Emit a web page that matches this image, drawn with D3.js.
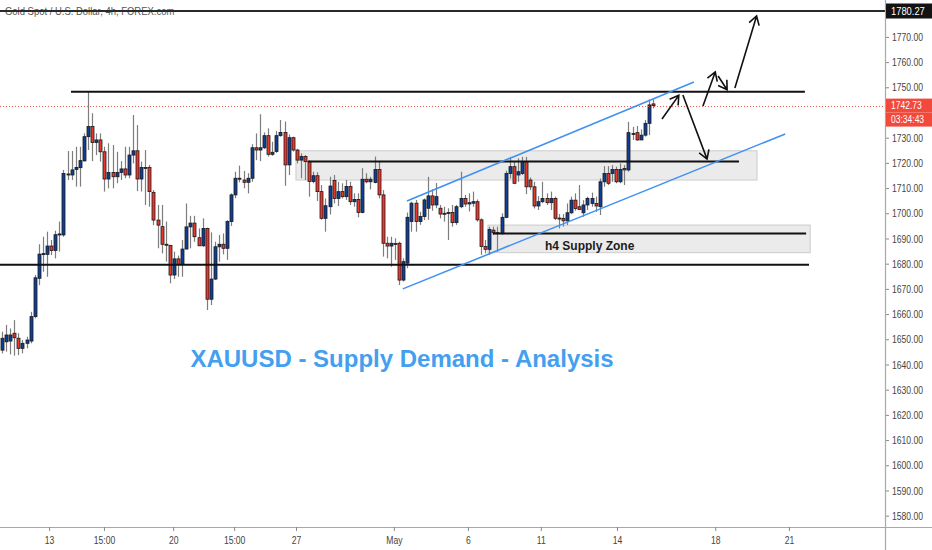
<!DOCTYPE html>
<html><head><meta charset="utf-8">
<script src="https://cdn.jsdelivr.net/npm/d3@7"></script>
<style>html,body{margin:0;padding:0;background:#fff;overflow:hidden}</style>
</head><body><svg id="c" width="932" height="550"></svg>
<script>
// ---- data (4h candles, Gold Spot / USD) ----
const opens=[1645.7,1649.0,1649.3,1652.4,1650.4,1646.4,1648.4,1649.3,1659.0,1674.2,
1683.8,1683.7,1687.0,1685.2,1691.5,1691.4,1715.6,1715.2,1717.4,1718.1,
1720.8,1730.4,1734.4,1728.1,1729.1,1724.4,1713.6,1716.2,1714.5,1716.2,
1717.6,1715.2,1723.1,1724.8,1713.6,1718.2,1718.2,1708.3,1697.3,1694.7,
1687.7,1687.2,1675.5,1681.9,1679.7,1685.8,1694.6,1696.1,1690.3,1687.1,
1694.0,1665.9,1673.9,1686.7,1687.7,1686.1,1696.7,1707.3,1713.9,1713.2,
1712.3,1713.9,1726.0,1725.1,1726.0,1730.8,1723.4,1724.5,1730.8,1732.1,
1719.2,1730.0,1725.1,1721.1,1722.5,1720.5,1712.6,1714.9,1708.6,1698.0,
1702.6,1713.0,1705.9,1708.6,1706.6,1710.6,1704.6,1705.5,1700.3,1713.5,
1712.5,1712.2,1717.4,1707.3,1688.1,1687.0,1688.0,1688.1,1673.5,1680.2,
1696.7,1704.0,1696.7,1698.7,1702.0,1706.9,1703.3,1702.0,1700.0,1700.3,
1700.3,1696.3,1702.6,1705.9,1703.7,1704.0,1704.6,1697.4,1686.8,1685.7,
1693.3,1692.3,1692.0,1698.4,1715.8,1718.5,1715.2,1715.8,1720.5,1713.2,
1710.5,1702.9,1704.6,1705.9,1704.2,1705.9,1698.1,1698.0,1697.0,1700.2,
1705.2,1702.6,1700.2,1703.3,1703.9,1703.9,1702.6,1712.5,1715.8,1715.8,
1717.4,1712.5,1717.8,1717.2,1731.7,1732.0,1729.1,1731.0,1735.7,1743.4];
const highs=[1653.0,1655.7,1654.3,1657.6,1652.4,1649.7,1651.0,1660.9,1675.5,1687.7,
1690.7,1692.7,1689.4,1693.1,1696.7,1717.2,1724.7,1724.7,1726.4,1726.4,
1731.7,1748.3,1739.7,1731.7,1731.7,1726.4,1727.8,1727.1,1724.4,1720.7,
1726.4,1726.4,1739.0,1735.0,1720.5,1725.1,1719.2,1709.2,1703.3,1703.3,
1696.7,1687.5,1684.8,1683.2,1689.4,1703.9,1699.0,1699.0,1694.0,1698.0,
1694.3,1692.4,1688.7,1691.4,1692.0,1697.3,1707.9,1716.5,1718.9,1716.8,
1715.9,1727.4,1731.7,1739.3,1732.1,1733.7,1728.4,1732.7,1737.0,1736.4,
1731.3,1730.4,1725.6,1723.8,1723.1,1721.0,1716.5,1716.3,1711.2,1705.9,
1714.5,1715.2,1712.5,1711.9,1713.2,1712.5,1707.9,1707.9,1717.9,1715.9,
1714.5,1722.5,1720.5,1709.2,1690.7,1690.7,1690.1,1688.7,1682.1,1700.3,
1704.6,1705.3,1700.6,1705.9,1714.5,1709.5,1712.0,1703.3,1702.6,1702.0,
1703.3,1703.3,1716.5,1707.3,1707.9,1708.6,1705.5,1698.0,1689.4,1694.7,
1694.7,1694.7,1700.0,1716.9,1722.4,1720.5,1721.8,1722.4,1722.4,1714.2,
1712.5,1706.8,1712.5,1707.9,1708.6,1706.6,1699.7,1699.7,1703.9,1706.6,
1707.9,1711.2,1705.2,1706.6,1708.2,1706.6,1713.8,1718.7,1718.7,1719.1,
1718.5,1719.8,1719.1,1736.3,1734.3,1734.6,1733.3,1737.0,1745.2,1745.2];
const lows=[1644.4,1645.1,1644.0,1643.5,1643.7,1644.4,1646.4,1648.4,1658.3,1671.5,
1676.8,1674.8,1683.4,1682.1,1684.8,1690.7,1713.2,1713.2,1710.6,1710.6,
1720.5,1725.1,1720.7,1723.1,1720.5,1708.6,1709.9,1709.9,1711.9,1713.2,
1713.9,1713.9,1719.8,1708.8,1708.6,1703.3,1702.6,1695.3,1686.1,1684.1,
1680.8,1672.2,1673.9,1674.8,1674.8,1685.8,1686.1,1688.7,1687.1,1686.7,
1661.6,1663.6,1673.5,1680.8,1683.7,1681.5,1695.0,1706.0,1712.3,1709.9,
1707.9,1712.5,1721.1,1720.7,1725.5,1722.5,1722.8,1724.0,1730.4,1710.9,
1715.2,1724.5,1719.8,1713.9,1713.2,1706.6,1711.9,1704.9,1697.5,1692.7,
1699.5,1703.9,1702.9,1705.9,1705.3,1703.3,1702.6,1698.4,1700.0,1711.9,
1709.5,1711.9,1705.9,1682.8,1682.1,1678.8,1681.5,1671.5,1672.9,1678.2,
1692.7,1692.7,1695.4,1697.3,1697.4,1701.0,1702.0,1698.0,1696.7,1689.4,
1694.7,1695.4,1702.0,1702.6,1700.7,1702.6,1696.7,1683.5,1684.1,1683.5,
1691.4,1684.7,1691.4,1698.0,1713.8,1711.6,1712.5,1715.2,1707.6,1709.2,
1701.9,1701.3,1704.0,1703.3,1701.3,1697.3,1694.0,1694.7,1695.3,1699.7,
1701.0,1701.3,1698.6,1701.3,1702.6,1700.6,1699.3,1710.5,1711.2,1712.5,
1711.9,1711.9,1711.2,1716.5,1729.1,1728.8,1729.1,1730.4,1731.0,1741.6];
const closes=[1650.4,1651.7,1651.7,1650.6,1646.4,1648.4,1649.7,1659.0,1674.4,1683.8,
1684.0,1687.0,1685.2,1691.5,1691.8,1715.8,1715.3,1717.2,1718.2,1720.9,
1730.4,1734.4,1728.1,1729.1,1724.4,1713.6,1716.2,1714.5,1716.2,1717.6,
1715.2,1723.1,1724.8,1713.6,1718.2,1718.0,1708.6,1697.3,1695.3,1687.7,
1687.5,1675.5,1681.9,1679.7,1685.8,1694.6,1696.1,1690.7,1687.1,1694.0,
1665.9,1673.9,1686.7,1687.7,1686.1,1696.7,1707.3,1713.9,1713.7,1712.3,
1713.9,1726.0,1725.1,1726.0,1730.8,1723.4,1724.2,1730.8,1732.1,1719.2,
1730.0,1725.1,1721.1,1722.5,1720.5,1712.6,1714.9,1708.6,1698.0,1703.0,
1710.8,1705.9,1708.6,1706.6,1710.6,1704.6,1705.5,1700.3,1713.5,1712.5,
1713.5,1717.4,1707.3,1688.1,1687.0,1688.1,1687.7,1673.5,1680.8,1698.4,
1704.0,1696.7,1698.7,1705.3,1706.9,1703.3,1706.6,1699.7,1699.8,1700.1,
1696.3,1702.6,1705.9,1703.7,1704.2,1704.6,1697.4,1686.8,1685.7,1693.6,
1692.3,1691.9,1698.4,1715.8,1718.5,1711.9,1716.5,1720.5,1710.5,1710.5,
1702.9,1704.6,1705.9,1704.2,1705.9,1698.0,1697.9,1697.0,1700.2,1705.2,
1701.9,1701.5,1703.3,1705.9,1705.9,1702.9,1712.5,1715.8,1711.9,1717.4,
1712.5,1717.4,1717.2,1732.0,1731.6,1729.1,1731.0,1735.7,1743.0,1742.73];

// 1740 and 1780 are hidden behind the price boxes in the reference
const priceTicks=[1580,1590,1600,1610,1620,1630,1640,1650,1660,1670,1680,1690,1700,1710,1720,1730,1750,1760,1770];
const timeTickPos=[12.5,25.9,42.8,57.7,72.8,96.7,114.8,132.6,151.2,175.2,193.2];
const timeTickLabels=["13","15:00","20","15:00","27","May","6","11","14","18","21"];
const chartTitle="Gold Spot / U.S. Dollar, 4h, FOREX.com";
const bigTitle="XAUUSD - Supply Demand - Analysis";
const zoneLabel="h4 Supply Zone";
const topLevel=1780.27, lastPrice=1742.73, countdown="03:34:43";
// horizontal levels: [price, fromIndex, toIndex]
const levels=[[1748.2,17.85,197.1],[1679.6,0,198.1],[1720.5,75.7,181.0],[1692.0,120.9,197.4]];
// zones: [top, bottom, fromIndex, toIndex]
const zones=[[1724.8,1713.2,72.8,185.4],[1695.3,1684.4,119.7,198.4]];
// channel: [i1,p1,i2,p2]
const channel=[[99.9,1704.9,170.0,1752.1],[98.9,1670.0,192.3,1731.5]];
// projected arrows: [i1,p1,i2,p2]
const arrows=[[162.2,1737.4,166.3,1746.8],[167.3,1746.9,173.2,1721.5],[172.2,1742.6,175.2,1756.1],[175.9,1754.5,178.1,1749.0],[180.0,1749.7,185.3,1778.3]];

// ---- layout ----
const W=932,H=550,plotR=885,axisY=527;
const svg=d3.select("#c");
const x=d3.scaleLinear().domain([1,160]).range([2,653]);
const y=d3.scaleLinear().domain([topLevel,1580]).range([11,11+(topLevel-1580)*2.52]);
const sans='"Liberation Sans",Arial,sans-serif';
function squeeze(sel,f){ sel.each(function(){ const w=this.getComputedTextLength(); d3.select(this).attr("textLength",w*f).attr("lengthAdjust","spacingAndGlyphs"); }); }

svg.append("rect").attr("width",W).attr("height",H).attr("fill","#fff");
svg.append("defs").append("clipPath").attr("id","plot").append("rect").attr("x",0).attr("y",0).attr("width",plotR).attr("height",axisY);
const g=svg.append("g").attr("clip-path","url(#plot)");

// zones
g.selectAll("rect.zone").data(zones).enter().append("rect").attr("class","zone")
 .attr("x",d=>x(d[2])).attr("y",d=>y(d[0])).attr("width",d=>x(d[3])-x(d[2])).attr("height",d=>y(d[1])-y(d[0]))
 .attr("fill","#ebebeb").attr("stroke","#d2d2d2").attr("stroke-width",1.2);

// candles
const idx=d3.range(opens.length);
const cg=g.append("g");
cg.selectAll("line.w").data(idx).enter().append("line")
 .attr("x1",i=>Math.round(x(i+1))+0.5).attr("x2",i=>Math.round(x(i+1))+0.5)
 .attr("y1",i=>y(highs[i])).attr("y2",i=>y(lows[i]))
 .attr("stroke","#7d7d7d").attr("stroke-width",1.2);
cg.selectAll("rect.b").data(idx).enter().append("rect")
 .attr("x",i=>Math.round(x(i+1))-1).attr("width",3)
 .attr("y",i=>y(Math.max(opens[i],closes[i])))
 .attr("height",i=>Math.max(1,Math.abs(y(opens[i])-y(closes[i]))))
 .attr("fill",i=>closes[i]>=opens[i]?"#0f3f94":"#e8372c")
 .attr("stroke","#1a1a1a").attr("stroke-width",0.8);

// level lines
g.selectAll("line.lvl").data(levels).enter().append("line")
 .attr("x1",d=>x(d[1])).attr("x2",d=>x(d[2])).attr("y1",d=>y(d[0])).attr("y2",d=>y(d[0]))
 .attr("stroke","#111").attr("stroke-width",2);

// last price dotted line
g.append("line").attr("x1",0).attr("x2",plotR).attr("y1",Math.round(y(lastPrice))+0.5).attr("y2",Math.round(y(lastPrice))+0.5)
 .attr("stroke","#f0564a").attr("stroke-width",1).attr("stroke-dasharray","1,2");

// channel
g.selectAll("line.ch").data(channel).enter().append("line")
 .attr("x1",d=>x(d[0])).attr("y1",d=>y(d[1])).attr("x2",d=>x(d[2])).attr("y2",d=>y(d[3]))
 .attr("stroke","#3f91f2").attr("stroke-width",1.6);

// arrows
function arrowPath(d){
  const x1=x(d[0]),y1=y(d[1]),x2=x(d[2]),y2=y(d[3]);
  const a=Math.atan2(y2-y1,x2-x1),L=10,s=0.55;
  return `M${x1},${y1}L${x2},${y2}M${x2-L*Math.cos(a-s)},${y2-L*Math.sin(a-s)}L${x2},${y2}L${x2-L*Math.cos(a+s)},${y2-L*Math.sin(a+s)}`;
}
g.selectAll("path.ar").data(arrows).enter().append("path").attr("d",arrowPath)
 .attr("fill","none").attr("stroke","#111").attr("stroke-width",1.6).attr("stroke-linejoin","miter");

// texts
const t1=g.append("text").attr("x",5).attr("y",15).text(chartTitle)
 .attr("font-family",sans).attr("font-size",11).attr("fill","#555");
squeeze(t1,0.86);
g.append("text").attr("x",x(zones[1][2])+57).attr("y",250).text(zoneLabel)
 .attr("font-family",sans).attr("font-weight","bold").attr("font-size",12).attr("fill","#1c1c1c");
g.append("text").attr("x",402).attr("y",367).attr("text-anchor","middle").text(bigTitle)
 .attr("font-family",sans).attr("font-weight","bold").attr("font-size",24).attr("fill","#449ff0");
// top level line over title
g.append("line").attr("x1",0).attr("x2",plotR).attr("y1",y(topLevel)).attr("y2",y(topLevel)).attr("stroke","#2a2a2a").attr("stroke-width",2);

// price axis
const ya=svg.append("g").attr("transform",`translate(${plotR},0)`)
 .call(d3.axisRight(y).tickValues(priceTicks).tickFormat(d3.format(".2f")).tickSize(4).tickPadding(3));
ya.select(".domain").remove();
ya.selectAll(".tick line").attr("stroke","#888");
ya.selectAll(".tick text").attr("font-family",sans).attr("font-size",11).attr("fill","#444");
squeeze(ya.selectAll(".tick text"),0.78);
svg.append("line").attr("x1",plotR+0.5).attr("x2",plotR+0.5).attr("y1",0).attr("y2",H).attr("stroke","#a8a8a8").attr("stroke-width",1.2);

// special price labels
function priceBox(yc,h,fill,txt,fs){
  svg.append("rect").attr("x",plotR+1).attr("y",yc-h/2).attr("width",W-plotR-1).attr("height",h).attr("fill",fill);
  const t=svg.append("text").attr("x",plotR+6).attr("y",yc+3.5).text(txt).attr("font-family",sans).attr("font-size",fs).attr("fill","#fff");
  squeeze(t,0.85);
}
priceBox(y(topLevel),15,"#131313",d3.format(".2f")(topLevel),11);
priceBox(y(lastPrice),14,"#f2493d",d3.format(".2f")(lastPrice),10);
priceBox(y(lastPrice)+14,14,"#f2493d",countdown,10);

// time axis
svg.append("line").attr("x1",0).attr("x2",W).attr("y1",axisY+0.5).attr("y2",axisY+0.5).attr("stroke","#a8a8a8").attr("stroke-width",1.2);
const xa=svg.append("g").attr("transform",`translate(0,${axisY})`)
 .call(d3.axisBottom(x).tickValues(timeTickPos).tickFormat((d,i)=>timeTickLabels[i]).tickSize(4).tickPadding(5));
xa.select(".domain").remove();
xa.selectAll(".tick line").attr("stroke","#888");
xa.selectAll(".tick text").attr("font-family",sans).attr("font-size",11).attr("fill","#444");
squeeze(xa.selectAll(".tick text"),0.78);
</script></body></html>
